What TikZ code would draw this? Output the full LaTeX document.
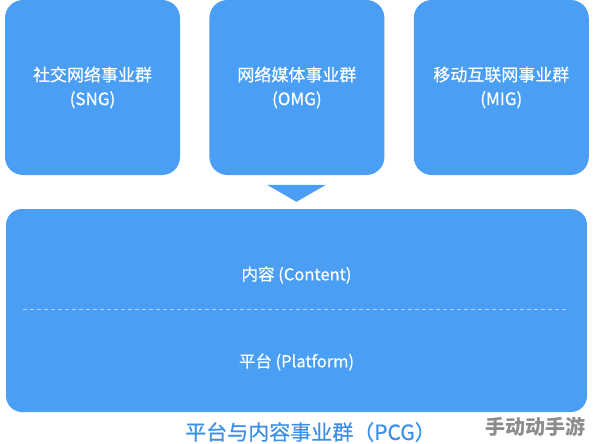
\documentclass[tikz,border=0pt]{standalone}
\usepackage{fontspec}
\setmainfont{Noto Sans CJK SC}
\newfontfamily\labelfont{Noto Sans CJK SC}[FakeBold=0.5]
\usetikzlibrary{calc,positioning}
\definecolor{groupblue}{HTML}{4A9FF5}
\definecolor{captionblue}{HTML}{3C8FE8}

\begin{document}
\begin{tikzpicture}[x=1pt,y=-1pt,
		groupbox/.style={fill=groupblue, rounded corners=18pt, minimum width=175pt, minimum height=175pt, inner sep=0pt, text=white, align=center, font=\labelfont\fontsize{17}{24}\selectfont},
		layerbox/.style={fill=groupblue, rounded corners=16pt, minimum width=581pt, minimum height=203pt, inner sep=0pt},
		layertext/.style={text=white, font=\labelfont\fontsize{16.5}{20}\selectfont}]
		\useasboundingbox (0,0) rectangle (594,444);
		
		%%%%% business groups
		\node[groupbox] (sng) at (92.5, 87.5) {社交网络事业群\\(SNG)};
		\node[groupbox, right=29pt of sng] (omg) {网络媒体事业群\\(OMG)};
		\node[groupbox, right=29pt of omg] (mig) {移动互联网事业群\\(MIG)};
		
		%%%%% platform and content group
		\node[layerbox] (pcg) at (296.5, 310.5) {};
		\fill[groupblue] ($(pcg.north)+(-29.5,-24)$) -- ++(59,0) -- ($(pcg.north)+(0,-7)$) -- cycle;
		
		\node[layertext] (content) at ($(pcg.center)+(0,-35.5)$) {内容 (Content)};
		\draw[white!55!groupblue, line width=0.8pt, dash pattern=on 4pt off 3pt] ($(pcg.west)+(17,-1.5)$) -- ($(pcg.east)+(-19,-1.5)$);
		\node[layertext] (platform) at ($(pcg.center)+(0,51.5)$) {平台 (Platform)};
		
		\node[text=captionblue, font=\labelfont\fontsize{21}{24}\selectfont] (caption) at (310.5, 432) {平台与内容事业群（PCG）};
		\node[text=black!45, font=\bfseries\fontsize{20}{24}\selectfont] (mark) at (535, 427) {手动动手游};
\end{tikzpicture}
\end{document}
